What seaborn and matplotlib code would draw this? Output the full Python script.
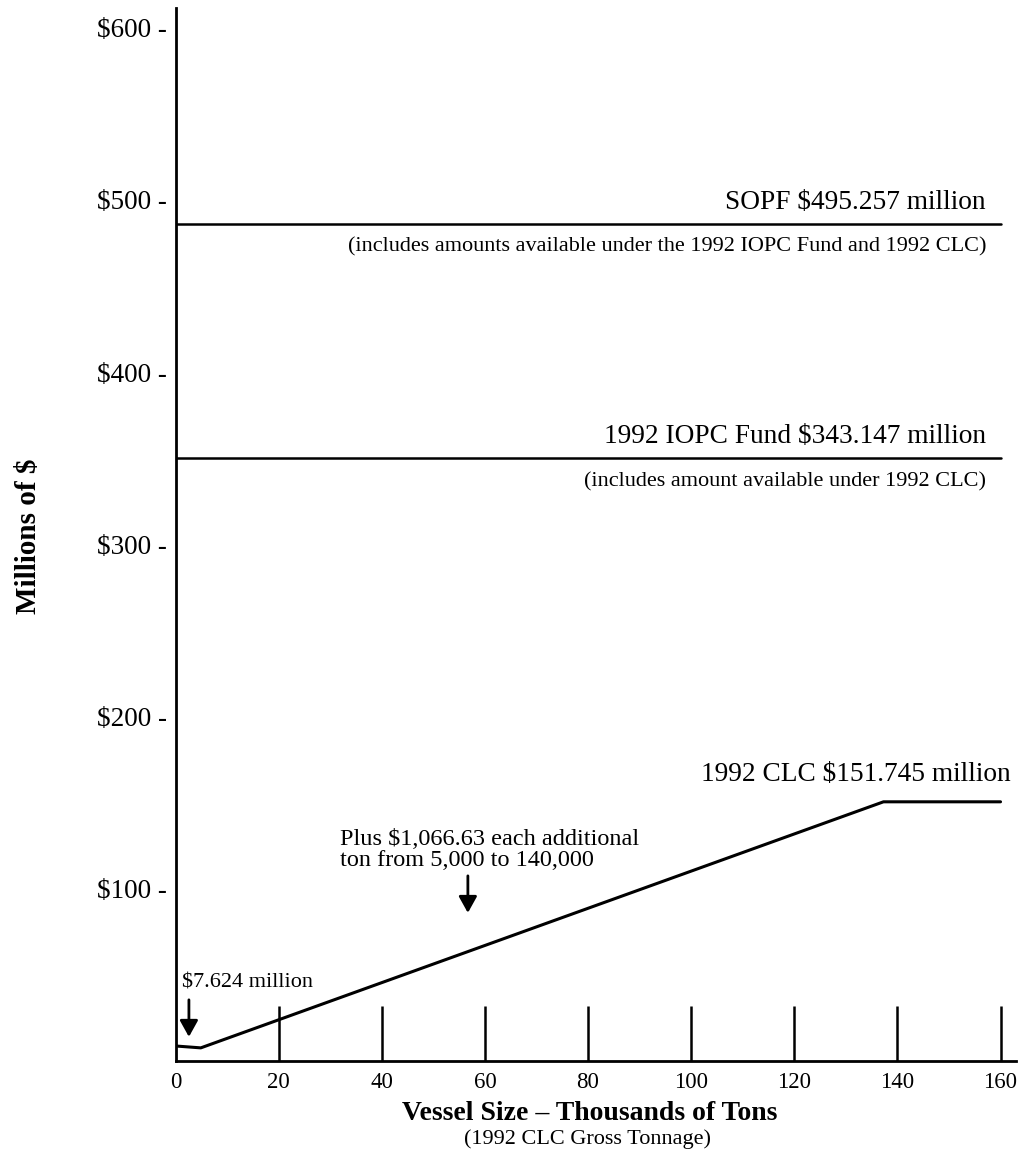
import pandas as pd
import matplotlib
matplotlib.use("Agg")
import matplotlib.pyplot as plt
import seaborn as sns

# CLC liability curve (thousands of tons vs millions of $)
clc_x = [0, 4.9, 137.3, 160]
clc_y = [8.7, 7.6, 150.5, 150.5]

# flat fund limits as drawn
fund_names = ['SOPF', '1992 IOPC Fund']
fund_levels = [486, 350]
fund_x = [0, 160]

# tall tick bars on the x axis
bar_ticks = [20, 40, 60, 80, 100, 120, 140, 160]
bar_height = 32

x_ticks = [0, 20, 40, 60, 80, 100, 120, 140, 160]
y_ticks = [100, 200, 300, 400, 500, 600]
y_labels = ['$100 -', '$200 -', '$300 -', '$400 -', '$500 -', '$600 -']

sns.set_style("white")
plt.rcParams['font.family'] = ['Liberation Serif', 'DejaVu Serif']
plt.rcParams['text.color'] = 'black'
plt.rcParams['xtick.color'] = 'black'
plt.rcParams['ytick.color'] = 'black'

fig = plt.figure(figsize=(10.21, 11.58), dpi=100)
ax = fig.add_axes([0.1719, 0.0838, 0.8232, 0.9093])

clc = pd.DataFrame({'x': clc_x, 'y': clc_y})
sns.lineplot(data=clc, x='x', y='y', color='black', lw=2.2, ax=ax)

for name, level in zip(fund_names, fund_levels):
    df = pd.DataFrame({'x': fund_x, 'y': [level, level]})
    sns.lineplot(data=df, x='x', y='y', color='black', lw=1.8, ax=ax)

ax.vlines(bar_ticks, 0, bar_height, color='black', lw=1.8)

ax.set_xlim(0, 163)
ax.set_ylim(0, 611.5)
ax.set_xticks(x_ticks)
ax.set_xticklabels([str(t) for t in x_ticks], fontsize=16.5)
ax.set_yticks(y_ticks)
ax.set_yticklabels(y_labels, fontsize=19.5)
ax.tick_params(axis='x', length=0, pad=8)
ax.tick_params(axis='y', length=0, pad=6)
ax.set_xlabel('')
ax.set_ylabel('')

for side in ['top', 'right']:
    ax.spines[side].set_visible(False)
for side in ['left', 'bottom']:
    ax.spines[side].set_color('black')
    ax.spines[side].set_linewidth(2)

# line labels
ax.text(157.2, 498.5, 'SOPF $495.257 million', ha='right', va='center', fontsize=19.7)
ax.text(157.2, 472.5, '(includes amounts available under the 1992 IOPC Fund and 1992 CLC)',
        ha='right', va='center', fontsize=16)
ax.text(157.2, 362.5, '1992 IOPC Fund $343.147 million', ha='right', va='center', fontsize=19.7)
ax.text(157.2, 336.4, '(includes amount available under 1992 CLC)',
        ha='right', va='center', fontsize=16)
ax.text(162, 166.5, '1992 CLC $151.745 million', ha='right', va='center', fontsize=19.7)

# annotations with arrows
arrow = dict(arrowstyle='-|>,head_length=0.45,head_width=0.25', color='black', lw=2,
             mutation_scale=22, shrinkA=0, shrinkB=0)
ax.text(1.2, 45, '$7.624 million', ha='left', va='center', fontsize=16)
ax.annotate('', xy=(2.6, 14), xytext=(2.6, 35.5), arrowprops=arrow)
ax.text(31.9, 122.5, 'Plus $1,066.63 each additional\nton from 5,000 to 140,000',
        ha='left', va='center', fontsize=17.5, linespacing=1.02)
ax.annotate('', xy=(56.7, 86), xytext=(56.7, 107.5), arrowprops=arrow)

# axis titles
fig.text(0.0275, 1 - 536 / 1158, 'Millions of $', rotation=90, ha='center', va='center',
         fontsize=21, fontweight='bold')
fig.text(0.578, 1 - 1113 / 1158, 'Vessel Size \u2013 Thousands of Tons', ha='center',
         va='center', fontsize=20, fontweight='bold')
fig.text(0.575, 1 - 1139 / 1158, '(1992 CLC Gross Tonnage)', ha='center', va='center',
         fontsize=16)

fig.savefig('out.png', dpi=100, facecolor='white')
